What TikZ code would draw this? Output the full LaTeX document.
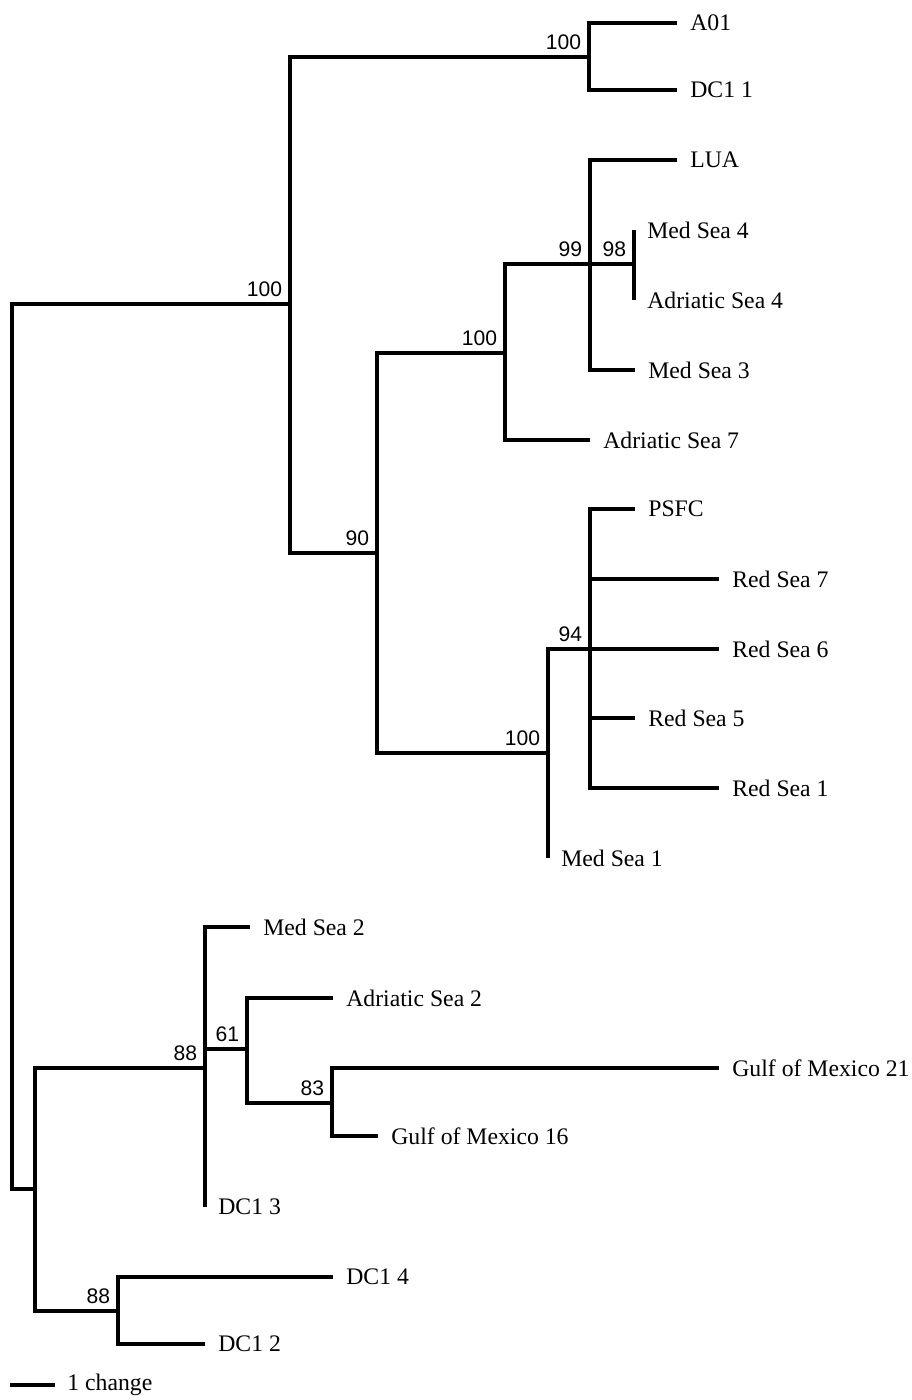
\documentclass[tikz,border=0pt]{standalone}
\usepackage{fontspec}
\setmainfont{Liberation Serif}
\newfontfamily\bootfont{Liberation Sans}
\usetikzlibrary{positioning}

\begin{document}
\begin{tikzpicture}[
  x=0.2mm, y=-0.2mm,
  br/.style   = {draw=black, line width=2.2pt},
  leaf/.style = {anchor=west, inner xsep=2.6mm, inner ysep=0pt,
                 font=\fontsize{13.5}{16}\selectfont},
  boot/.style = {anchor=south east, inner sep=0pt, xshift=-1.5mm, yshift=1.4mm,
                 font=\bootfont\fontsize{12}{14}\selectfont},
]
\useasboundingbox (0,0) rectangle (912,1400);

% internal nodes
\coordinate (root) at (12,746);
\coordinate (nA) at (290,304);
\coordinate (nB) at (589,57);
\coordinate (nC) at (377,553);
\coordinate (nD) at (505,353);
\coordinate (nE) at (590,264);
\coordinate (nF) at (634,264);
\coordinate (nG) at (548,753);
\coordinate (nH) at (590,649);
\coordinate (nI) at (35,1189);
\coordinate (nJ) at (205,1068);
\coordinate (nK) at (247,1049);
\coordinate (nL) at (332,1103);
\coordinate (nM) at (118,1311);

% leaves
\node[leaf] (a01)   at (677,23)   {A01};
\node[leaf] (dc11)  at (677,90)   {DC1 1};
\node[leaf] (lua)   at (677,160)  {LUA};
\node[leaf] (ms4)   at (634,230)  {Med Sea 4};
\node[leaf] (as4)   at (634,300)  {Adriatic Sea 4};
\node[leaf] (ms3)   at (635,370)  {Med Sea 3};
\node[leaf] (as7)   at (590,440)  {Adriatic Sea 7};
\node[leaf] (psfc)  at (635,509)  {PSFC};
\node[leaf] (rs7)   at (719,579)  {Red Sea 7};
\node[leaf] (rs6)   at (719,649)  {Red Sea 6};
\node[leaf] (rs5)   at (635,718)  {Red Sea 5};
\node[leaf] (rs1)   at (719,788)  {Red Sea 1};
\node[leaf] (ms1)   at (548,858)  {Med Sea 1};
\node[leaf] (ms2)   at (250,927)  {Med Sea 2};
\node[leaf] (as2)   at (333,998)  {Adriatic Sea 2};
\node[leaf] (gom21) at (719,1068) {Gulf of Mexico 21};
\node[leaf] (gom16) at (378,1136) {Gulf of Mexico 16};
\node[leaf] (dc13)  at (205,1207) {DC1 3};
\node[leaf] (dc14)  at (333,1277) {DC1 4};
\node[leaf] (dc12)  at (205,1344) {DC1 2};

% branches
\foreach \a/\b in {root/nA, root/nI, nA/nB, nA/nC, nB/a01, nB/dc11,
                   nC/nD, nC/nG, nD/nE, nD/as7, nE/lua, nE/nF, nE/ms3,
                   nF/ms4, nF/as4, nG/nH, nG/ms1, nH/psfc, nH/rs7,
                   nH/rs6, nH/rs5, nH/rs1, nI/nJ, nI/nM, nJ/ms2,
                   nJ/nK, nJ/dc13, nK/as2, nK/nL, nL/gom21, nL/gom16,
                   nM/dc14, nM/dc12}
  \draw[br] (\a) |- (\b);

% bootstrap values
\foreach \n/\v in {nA/100, nB/100, nC/90, nD/100, nE/99, nF/98, nG/100,
                   nH/94, nJ/88, nK/61, nL/83, nM/88}
  \node[boot] (b\n) at (\n) {\v};

% scale bar
\coordinate (sbL) at (10,1385);
\node[leaf, inner xsep=2.4mm] (sbR) at (55,1385) {1 change};
\draw[br] (sbL) -- (sbR);

\end{tikzpicture}
\end{document}
